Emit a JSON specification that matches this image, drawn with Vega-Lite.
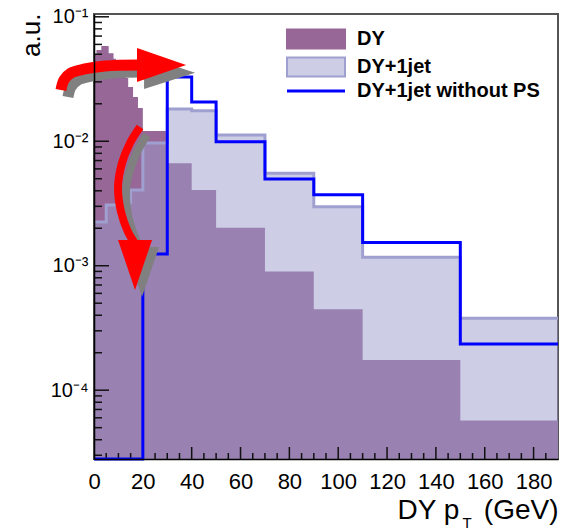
{
  "$schema": "https://vega.github.io/schema/vega-lite/v6.json",
  "width": 464,
  "height": 445,
  "autosize": "none",
  "padding": {"left": 94, "top": 14, "right": 15, "bottom": 70},
  "background": "white",
  "config": {
    "font": "Liberation Sans",
    "view": {"stroke": "#555555", "strokeWidth": 2}
  },
  "datasets": {
    "dy": [
      {"lo": 0, "hi": 1, "v": 0.0493}, {"lo": 1, "hi": 2, "v": 0.0541}, {"lo": 2, "hi": 3, "v": 0.0541},
      {"lo": 3, "hi": 4, "v": 0.0582}, {"lo": 4, "hi": 5, "v": 0.0582}, {"lo": 5, "hi": 6, "v": 0.0582},
      {"lo": 6, "hi": 7, "v": 0.0509}, {"lo": 7, "hi": 8, "v": 0.0509}, {"lo": 8, "hi": 9, "v": 0.046},
      {"lo": 9, "hi": 10, "v": 0.044}, {"lo": 10, "hi": 11, "v": 0.04}, {"lo": 11, "hi": 12, "v": 0.038},
      {"lo": 12, "hi": 13, "v": 0.035}, {"lo": 13, "hi": 14, "v": 0.0322}, {"lo": 14, "hi": 15, "v": 0.0273},
      {"lo": 15, "hi": 16, "v": 0.0273}, {"lo": 16, "hi": 17, "v": 0.0227}, {"lo": 17, "hi": 18, "v": 0.0227},
      {"lo": 18, "hi": 19, "v": 0.0185}, {"lo": 19, "hi": 20, "v": 0.0185},
      {"lo": 20, "hi": 30, "v": 0.0121}, {"lo": 30, "hi": 40, "v": 0.00666}, {"lo": 40, "hi": 50, "v": 0.00406},
      {"lo": 50, "hi": 70, "v": 0.00202}, {"lo": 70, "hi": 90, "v": 0.000897}, {"lo": 90, "hi": 110, "v": 0.000448},
      {"lo": 110, "hi": 150, "v": 0.000175}, {"lo": 150, "hi": 190, "v": 0.000057}
    ],
    "dyj": [
      {"lo": 0, "hi": 5, "v": 0.00225}, {"lo": 5, "hi": 10, "v": 0.00307}, {"lo": 10, "hi": 15, "v": 0.0032},
      {"lo": 15, "hi": 20, "v": 0.00406}, {"lo": 20, "hi": 30, "v": 0.00967}, {"lo": 30, "hi": 40, "v": 0.01815},
      {"lo": 40, "hi": 50, "v": 0.01762}, {"lo": 50, "hi": 70, "v": 0.01124}, {"lo": 70, "hi": 90, "v": 0.00553},
      {"lo": 90, "hi": 110, "v": 0.00298}, {"lo": 110, "hi": 150, "v": 0.00117}, {"lo": 150, "hi": 190, "v": 0.000378}
    ],
    "nops": [
      {"lo": 0, "hi": 20, "v": 0.000028}, {"lo": 20, "hi": 30, "v": 0.001245}, {"lo": 30, "hi": 40, "v": 0.0328},
      {"lo": 40, "hi": 50, "v": 0.0207}, {"lo": 50, "hi": 70, "v": 0.0099}, {"lo": 70, "hi": 90, "v": 0.00497},
      {"lo": 90, "hi": 110, "v": 0.00371}, {"lo": 110, "hi": 150, "v": 0.00154}, {"lo": 150, "hi": 190, "v": 0.000235}
    ],
    "xmajor": [{"t": 20}, {"t": 40}, {"t": 60}, {"t": 80}, {"t": 100}, {"t": 120}, {"t": 140}, {"t": 160}, {"t": 180}],
    "xminor": [
      {"t": 5}, {"t": 10}, {"t": 15}, {"t": 25}, {"t": 30}, {"t": 35}, {"t": 45}, {"t": 50}, {"t": 55},
      {"t": 65}, {"t": 70}, {"t": 75}, {"t": 85}, {"t": 90}, {"t": 95}, {"t": 105}, {"t": 110}, {"t": 115},
      {"t": 125}, {"t": 130}, {"t": 135}, {"t": 145}, {"t": 150}, {"t": 155}, {"t": 165}, {"t": 170}, {"t": 175}, {"t": 185}
    ],
    "ymajor": [{"t": 0.0001}, {"t": 0.001}, {"t": 0.01}, {"t": 0.1}],
    "yminor": [
      {"t": 0.00003}, {"t": 0.00004}, {"t": 0.00005}, {"t": 0.00006}, {"t": 0.00007}, {"t": 0.00008}, {"t": 0.00009},
      {"t": 0.0002}, {"t": 0.0003}, {"t": 0.0004}, {"t": 0.0005}, {"t": 0.0006}, {"t": 0.0007}, {"t": 0.0008}, {"t": 0.0009},
      {"t": 0.002}, {"t": 0.003}, {"t": 0.004}, {"t": 0.005}, {"t": 0.006}, {"t": 0.007}, {"t": 0.008}, {"t": 0.009},
      {"t": 0.02}, {"t": 0.03}, {"t": 0.04}, {"t": 0.05}, {"t": 0.06}, {"t": 0.07}, {"t": 0.08}, {"t": 0.09}
    ],
    "arcs": [
      {"g": "r1", "c": "red", "i": 0, "x": -13.52, "v": 0.02582},
      {"g": "r1", "c": "red", "i": 1, "x": -12.3, "v": 0.03108},
      {"g": "r1", "c": "red", "i": 2, "x": -9.43, "v": 0.03536},
      {"g": "r1", "c": "red", "i": 3, "x": -3.69, "v": 0.03807},
      {"g": "r1", "c": "red", "i": 4, "x": 4.51, "v": 0.04025},
      {"g": "r1", "c": "red", "i": 5, "x": 18.44, "v": 0.04101},
      {"g": "g1", "c": "gray", "i": 0, "x": -10.66, "v": 0.02268},
      {"g": "g1", "c": "gray", "i": 1, "x": -9.43, "v": 0.0273},
      {"g": "g1", "c": "gray", "i": 2, "x": -6.56, "v": 0.03108},
      {"g": "g1", "c": "gray", "i": 3, "x": -0.82, "v": 0.03346},
      {"g": "g1", "c": "gray", "i": 4, "x": 7.38, "v": 0.03536},
      {"g": "g1", "c": "gray", "i": 5, "x": 21.31, "v": 0.03602},
      {"g": "r2", "c": "red", "i": 0, "x": 18.85, "v": 0.01303},
      {"g": "r2", "c": "red", "i": 1, "x": 14.75, "v": 0.00969},
      {"g": "r2", "c": "red", "i": 2, "x": 11.48, "v": 0.006695},
      {"g": "r2", "c": "red", "i": 3, "x": 9.84, "v": 0.004294},
      {"g": "r2", "c": "red", "i": 4, "x": 11.07, "v": 0.002704},
      {"g": "r2", "c": "red", "i": 5, "x": 13.93, "v": 0.001868},
      {"g": "r2", "c": "red", "i": 6, "x": 16.39, "v": 0.001553},
      {"g": "g2", "c": "gray", "i": 0, "x": 21.72, "v": 0.01124},
      {"g": "g2", "c": "gray", "i": 1, "x": 18.03, "v": 0.008513},
      {"g": "g2", "c": "gray", "i": 2, "x": 14.75, "v": 0.005882},
      {"g": "g2", "c": "gray", "i": 3, "x": 13.11, "v": 0.004062},
      {"g": "g2", "c": "gray", "i": 4, "x": 13.93, "v": 0.002559},
      {"g": "g2", "c": "gray", "i": 5, "x": 16.39, "v": 0.001768},
      {"g": "g2", "c": "gray", "i": 6, "x": 19.26, "v": 0.001339}
    ],
    "heads_r": [
      {"c": "red", "x": 17.62, "v": 0.05614, "v2": 0.02995},
      {"c": "red", "x": 37.7, "v": 0.04101, "v2": 0.04101},
      {"c": "gray", "x": 20.49, "v": 0.04842, "v2": 0.02631},
      {"c": "gray", "x": 41.39, "v": 0.03556, "v2": 0.03556}
    ],
    "heads_d": [
      {"c": "red", "v": 0.001612, "x": 9.84, "x2": 23.77},
      {"c": "red", "v": 0.000639, "x": 16.8, "x2": 16.8},
      {"c": "gray", "v": 0.001416, "x": 12.7, "x2": 26.64},
      {"c": "gray", "v": 0.000562, "x": 19.67, "x2": 19.67}
    ]
  },
  "resolve": {"axis": {"x": "independent", "y": "independent"}},
  "layer": [
    {
      "data": {"name": "dy"},
      "transform": [{"fold": ["lo", "hi"], "as": ["k", "e"]}],
      "mark": {"type": "area", "orient": "vertical"},
      "encoding": {
        "x": {
          "field": "e", "type": "quantitative",
          "scale": {"domain": [0, 190], "nice": false, "zero": false},
          "axis": {
            "orient": "bottom",
            "values": [0, 20, 40, 60, 80, 100, 120, 140, 160, 180],
            "labelOverlap": false,
            "labelFlush": false,
            "labelBound": false,
            "labelFontSize": 22,
            "labelColor": "#000000",
            "labelPadding": 12,
            "ticks": false,
            "domain": true, "domainColor": "#000000", "domainWidth": 1.5,
            "grid": false,
            "zindex": 1,
            "title": "DY p",
            "titleFontSize": 28,
            "titleFontWeight": "normal",
            "titleColor": "#000000",
            "titleAlign": "left",
            "titleBaseline": "alphabetic",
            "titleX": 303,
            "titleY": 59
          }
        },
        "y": {
          "field": "v", "type": "quantitative",
          "scale": {"type": "log", "domain": [0.000028, 0.1053], "nice": false},
          "axis": {
            "orient": "left",
            "values": [0.0001, 0.001, 0.01, 0.1],
            "labelExpr": "datum.value > 0.05 ? '10⁻¹' : datum.value > 0.005 ? '10⁻²' : datum.value > 0.0005 ? '10⁻³' : '10⁻⁴'",
            "labelOverlap": false,
            "labelFlush": false,
            "labelBound": false,
            "labelFontSize": 20,
            "labelColor": "#000000",
            "labelPadding": 6,
            "ticks": false,
            "domain": true, "domainColor": "#000000", "domainWidth": 1.5,
            "grid": false,
            "zindex": 1,
            "title": "a.u.",
            "titleFontSize": 26,
            "titleFontWeight": "normal",
            "titleColor": "#000000",
            "titleAngle": -90,
            "titleAlign": "right",
            "titleBaseline": "alphabetic",
            "titleX": -55,
            "titleY": -1
          }
        },
        "y2": {"datum": 0.000028},
        "color": {
          "datum": "DY",
          "scale": {"domain": ["DY", "DY+1jet", "DY+1jet without PS"], "range": ["#976797", "#cdcde5", "#0000ff"]},
          "legend": {
            "title": null,
            "orient": "none",
            "legendX": 212,
            "legendY": 15,
            "padding": 0,
            "symbolSize": 400,
            "labelOffset": 31,
            "rowPadding": 0,
            "labelFontSize": 20,
            "labelFontWeight": "bold",
            "labelColor": "#000000",
            "labelLimit": 400,
            "encode": {
              "symbols": {
                "update": {
                  "shape": {"signal": "datum.value === 'DY+1jet without PS' ? 'M-2.9,0H2.9' : 'M-2.9,-0.95H2.9V0.95H-2.9Z'"},
                  "fill": {"signal": "datum.value === 'DY' ? '#976797' : datum.value === 'DY+1jet' ? '#cdcde5' : 'transparent'"},
                  "stroke": {"signal": "datum.value === 'DY' ? '#976797' : datum.value === 'DY+1jet' ? '#a0a0d0' : '#0000ff'"},
                  "strokeWidth": {"signal": "datum.value === 'DY+1jet without PS' ? 3 : 2"},
                  "opacity": {"value": 1},
                  "fillOpacity": {"value": 1},
                  "strokeOpacity": {"value": 1}
                }
              }
            }
          }
        }
      }
    },
    {
      "data": {"name": "dyj"},
      "transform": [{"fold": ["lo", "hi"], "as": ["k", "e"]}],
      "mark": {"type": "area", "orient": "vertical", "fill": "#9c9ccc", "opacity": 0.5},
      "encoding": {
        "x": {"field": "e", "type": "quantitative", "axis": null},
        "y": {"field": "v", "type": "quantitative", "axis": null},
        "y2": {"datum": 0.000028}
      }
    },
    {
      "data": {"name": "dyj"},
      "transform": [{"fold": ["lo", "hi"], "as": ["k", "e"]}],
      "mark": {"type": "line", "stroke": "#a0a0d0", "strokeWidth": 3, "strokeCap": "butt"},
      "encoding": {
        "x": {
          "field": "e", "type": "quantitative",
          "axis": {
            "orient": "bottom",
            "domain": false, "ticks": false, "labels": false, "grid": false,
            "title": "T",
            "titleFontSize": 15,
            "titleFontWeight": "normal",
            "titleColor": "#000000",
            "titleAlign": "left",
            "titleBaseline": "alphabetic",
            "titleX": 368,
            "titleY": 68
          }
        },
        "y": {"field": "v", "type": "quantitative", "axis": null},
        "order": [{"field": "e", "type": "quantitative"}, {"field": "k", "type": "ordinal"}]
      }
    },
    {
      "data": {"name": "xmajor"},
      "mark": {"type": "tick", "orient": "vertical", "color": "#111111", "size": 12, "thickness": 1.5, "yOffset": -6, "opacity": 1},
      "encoding": {
        "x": {
          "field": "t", "type": "quantitative",
          "axis": {
            "orient": "bottom",
            "domain": false, "ticks": false, "labels": false, "grid": false,
            "title": "(GeV)",
            "titleFontSize": 28,
            "titleFontWeight": "normal",
            "titleColor": "#000000",
            "titleAlign": "right",
            "titleBaseline": "alphabetic",
            "titleX": 464,
            "titleY": 59
          }
        },
        "y": {"datum": 0.000028, "type": "quantitative", "axis": null}
      }
    },
    {
      "data": {"name": "xminor"},
      "mark": {"type": "tick", "orient": "vertical", "color": "#111111", "size": 6, "thickness": 1.5, "yOffset": -3, "opacity": 1},
      "encoding": {
        "x": {"field": "t", "type": "quantitative", "axis": null},
        "y": {"datum": 0.000028, "type": "quantitative", "axis": null}
      }
    },
    {
      "data": {"name": "ymajor"},
      "mark": {"type": "tick", "orient": "horizontal", "color": "#111111", "size": 15, "thickness": 1.5, "xOffset": 7.5, "opacity": 1},
      "encoding": {
        "y": {"field": "t", "type": "quantitative", "axis": null},
        "x": {"datum": 0, "type": "quantitative", "axis": null}
      }
    },
    {
      "data": {"name": "yminor"},
      "mark": {"type": "tick", "orient": "horizontal", "color": "#111111", "size": 8, "thickness": 1.5, "xOffset": 4, "opacity": 1},
      "encoding": {
        "y": {"field": "t", "type": "quantitative", "axis": null},
        "x": {"datum": 0, "type": "quantitative", "axis": null}
      }
    },
    {
      "data": {"name": "nops"},
      "transform": [{"fold": ["lo", "hi"], "as": ["k", "e"]}],
      "mark": {"type": "line", "stroke": "#0000ff", "strokeWidth": 3, "strokeCap": "butt"},
      "encoding": {
        "x": {"field": "e", "type": "quantitative", "axis": null},
        "y": {"field": "v", "type": "quantitative", "axis": null},
        "order": [{"field": "e", "type": "quantitative"}, {"field": "k", "type": "ordinal"}]
      }
    },
    {
      "data": {"name": "arcs"},
      "transform": [{"filter": "datum.c == 'gray'"}],
      "mark": {"type": "line", "stroke": "#808080", "interpolate": "catmull-rom", "strokeCap": "butt"},
      "encoding": {
        "x": {"field": "x", "type": "quantitative", "axis": null},
        "y": {"field": "v", "type": "quantitative", "axis": null},
        "detail": {"field": "g"},
        "order": {"field": "i", "type": "quantitative"},
        "strokeWidth": {"condition": {"test": "datum.g == 'g1'", "value": 11}, "value": 8}
      }
    },
    {
      "data": {"name": "heads_r"},
      "transform": [{"filter": "datum.c == 'gray'"}],
      "mark": {"type": "area", "fill": "#808080", "orient": "vertical"},
      "encoding": {
        "x": {"field": "x", "type": "quantitative", "axis": null},
        "y": {"field": "v", "type": "quantitative", "axis": null},
        "y2": {"field": "v2"}
      }
    },
    {
      "data": {"name": "heads_d"},
      "transform": [{"filter": "datum.c == 'gray'"}],
      "mark": {"type": "area", "fill": "#808080", "orient": "horizontal"},
      "encoding": {
        "y": {"field": "v", "type": "quantitative", "axis": null},
        "x": {"field": "x", "type": "quantitative", "axis": null},
        "x2": {"field": "x2"}
      }
    },
    {
      "data": {"name": "arcs"},
      "transform": [{"filter": "datum.c == 'red'"}],
      "mark": {"type": "line", "stroke": "#ff0000", "interpolate": "catmull-rom", "strokeCap": "butt"},
      "encoding": {
        "x": {"field": "x", "type": "quantitative", "axis": null},
        "y": {"field": "v", "type": "quantitative", "axis": null},
        "detail": {"field": "g"},
        "order": {"field": "i", "type": "quantitative"},
        "strokeWidth": {"condition": {"test": "datum.g == 'r1'", "value": 11}, "value": 8}
      }
    },
    {
      "data": {"name": "heads_r"},
      "transform": [{"filter": "datum.c == 'red'"}],
      "mark": {"type": "area", "fill": "#ff0000", "orient": "vertical"},
      "encoding": {
        "x": {"field": "x", "type": "quantitative", "axis": null},
        "y": {"field": "v", "type": "quantitative", "axis": null},
        "y2": {"field": "v2"}
      }
    },
    {
      "data": {"name": "heads_d"},
      "transform": [{"filter": "datum.c == 'red'"}],
      "mark": {"type": "area", "fill": "#ff0000", "orient": "horizontal"},
      "encoding": {
        "y": {"field": "v", "type": "quantitative", "axis": null},
        "x": {"field": "x", "type": "quantitative", "axis": null},
        "x2": {"field": "x2"}
      }
    }
  ]
}
